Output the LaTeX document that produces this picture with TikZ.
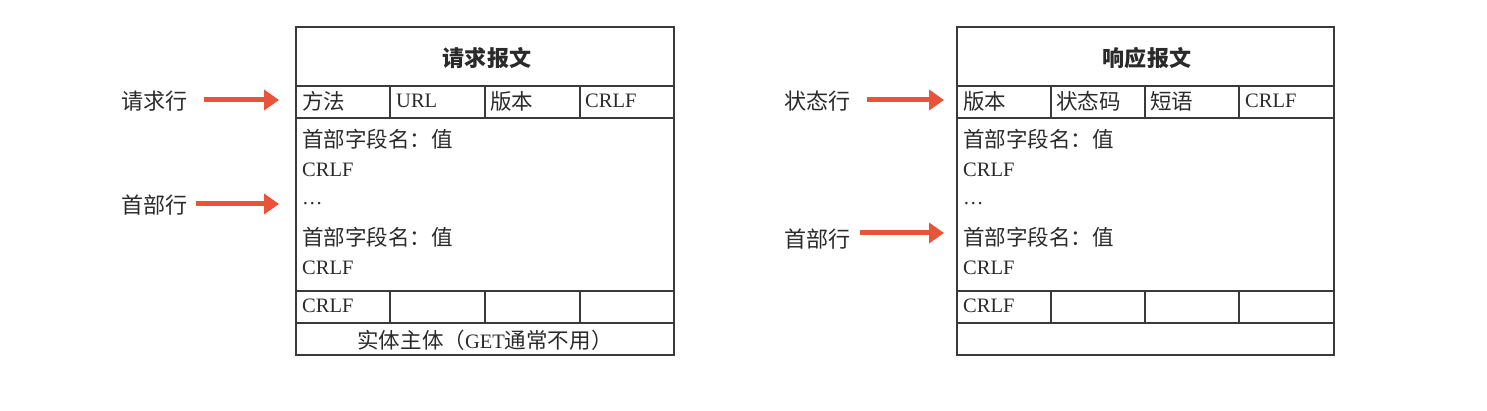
\documentclass[tikz,border=0pt]{standalone}
\usepackage{fontspec}
\setmainfont{Liberation Serif}
\newfontfamily\cjk[Scale=1.05]{Noto Sans CJK SC}
\usetikzlibrary{arrows.meta}
\definecolor{arrowred}{HTML}{E8533A}
\definecolor{boxline}{HTML}{3A3A3A}
\definecolor{txt}{HTML}{2A2A2A}
\begin{document}
\begin{tikzpicture}[x=1pt,y=-1pt,
  frame/.style={draw=boxline,line width=1.8pt},
  cell/.style={anchor=west,inner sep=0pt,text=txt,font=\fontsize{20.5}{24}\selectfont},
  celltitle/.style={inner sep=0pt,text=txt,font=\fontsize{21}{24}\selectfont\bfseries},
  sidelabel/.style={anchor=east,inner sep=0pt,text=txt,font=\fontsize{21}{24}\selectfont\cjk},
  bigarrow/.style={draw=arrowred,line width=5pt,-{Triangle[length=15pt,width=20pt]}}]
\useasboundingbox (0,0) rectangle (1487,411);
% ---------- left box ----------
\draw[frame] (296,27) rectangle (674,355);
\draw[frame] (296,86) -- (674,86);
\draw[frame] (296,118) -- (674,118);
\draw[frame] (296,291) -- (674,291);
\draw[frame] (296,323) -- (674,323);
\foreach \x in {390,485,580}{
  \draw[frame] (\x,86) -- (\x,118);
  \draw[frame] (\x,291) -- (\x,323);
}
\node[celltitle] (lt) at (487,58) {\cjk\bfseries 请求报文};
\node[cell] (l1) at (302,101) {\cjk 方法};
\node[cell] (l2) at (396,101) {URL};
\node[cell] (l3) at (490,101) {\cjk 版本};
\node[cell] (l4) at (585,101) {CRLF};
\node[cell] (lh1) at (302,139) {\cjk 首部字段名：值};
\node[cell] (lh2) at (302,170) {CRLF};
\node[cell] (lh3) at (302,204) {…};
\node[cell] (lh4) at (302,237) {\cjk 首部字段名：值};
\node[cell] (lh5) at (302,268) {CRLF};
\node[cell] (lc) at (302,306) {CRLF};
\node[cell,anchor=center] (lb) at (485,340) {{\cjk 实体主体（}GET{\cjk 通常不用）}};
% left labels
\node[sidelabel] (rq) at (188,101) {请求行};
\node[sidelabel] (hd1) at (188,205) {首部行};
\coordinate (rqt) at (279,100);
\coordinate (hdt1) at (279,204);
\draw[bigarrow] ([xshift=16pt]rq.east |- rqt) -- (rqt);
\draw[bigarrow] ([xshift=8pt]hd1.east |- hdt1) -- (hdt1);
% ---------- right box ----------
\draw[frame] (957,27) rectangle (1334,355);
\draw[frame] (957,86) -- (1334,86);
\draw[frame] (957,118) -- (1334,118);
\draw[frame] (957,291) -- (1334,291);
\draw[frame] (957,323) -- (1334,323);
\foreach \x in {1051,1145,1239}{
  \draw[frame] (\x,86) -- (\x,118);
  \draw[frame] (\x,291) -- (\x,323);
}
\node[celltitle] (rt) at (1147,58) {\cjk\bfseries 响应报文};
\node[cell] (r1) at (963,101) {\cjk 版本};
\node[cell] (r2) at (1056,101) {\cjk 状态码};
\node[cell] (r3) at (1150,101) {\cjk 短语};
\node[cell] (r4) at (1245,101) {CRLF};
\node[cell] (rh1) at (963,139) {\cjk 首部字段名：值};
\node[cell] (rh2) at (963,170) {CRLF};
\node[cell] (rh3) at (963,204) {…};
\node[cell] (rh4) at (963,237) {\cjk 首部字段名：值};
\node[cell] (rh5) at (963,268) {CRLF};
\node[cell] (rc) at (963,306) {CRLF};
% right labels
\node[sidelabel] (st) at (851,101) {状态行};
\node[sidelabel] (hd2) at (851,239) {首部行};
\coordinate (stt) at (944,100);
\coordinate (hdt2) at (944,233);
\draw[bigarrow] ([xshift=16pt]st.east |- stt) -- (stt);
\draw[bigarrow] ([xshift=9pt]hd2.east |- hdt2) -- (hdt2);
\end{tikzpicture}
\end{document}
